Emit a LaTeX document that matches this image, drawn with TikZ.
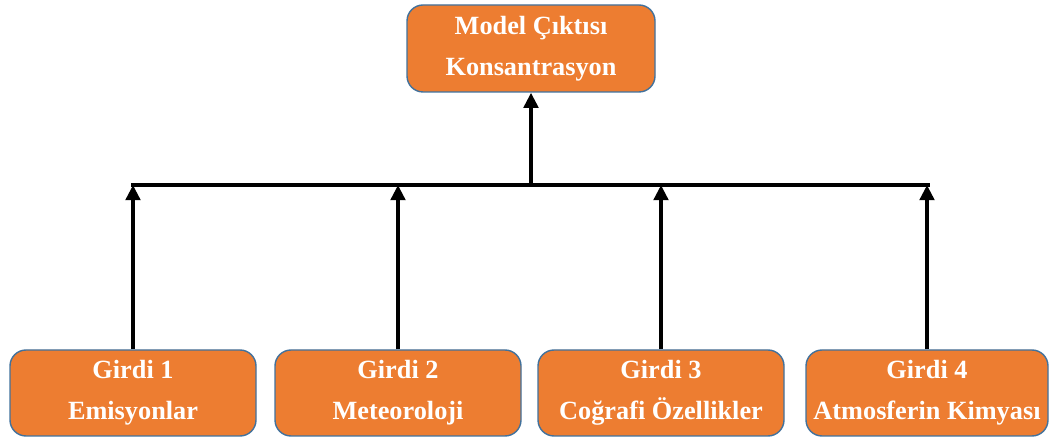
\documentclass[tikz,border=0pt]{standalone}
\usepackage{fontspec}
\setmainfont{Liberation Serif}
\usetikzlibrary{arrows.meta}
\definecolor{boxorange}{HTML}{ED7D31}
\definecolor{boxedge}{HTML}{41719C}
\tikzset{
  modelbox/.style={draw=boxedge, line width=1pt, fill=boxorange, rounded corners=0.4cm,
    text=white, font=\bfseries\fontsize{18.7}{29}\selectfont, align=center,
    minimum width=6.15cm, minimum height=2.15cm},
  feedline/.style={line width=2.7pt, -{Triangle[length=0.38cm,width=0.36cm]}},
}
\begin{document}
\begin{tikzpicture}
  \useasboundingbox (0,0) rectangle (26.25,10.975);

  % Model output
  \node[modelbox, minimum width=6.2cm, minimum height=2.175cm] (output) at (13.275,9.7625) {Model Çıktısı\\Konsantrasyon};

  % Inputs
  \node[modelbox] (girdi1) at (3.325,1.15) {Girdi 1\\Emisyonlar};
  \node[modelbox] (girdi2) at (9.95,1.15) {Girdi 2\\Meteoroloji};
  \node[modelbox] (girdi3) at (16.525,1.15) {Girdi 3\\Coğrafi Özellikler};
  \node[modelbox, minimum width=6.05cm] (girdi4) at (23.175,1.15) {Girdi 4\\Atmosferin Kimyası};

  % Collector bar
  \coordinate (barL) at (3.275,6.35);
  \coordinate (barR) at (23.25,6.35);
  \draw[line width=2.7pt] (barL) -- (barR);

  % Arrows
  \draw[feedline] (output.south |- barL) -- (output.south);
  \foreach \g in {girdi1,girdi2,girdi3,girdi4}
    \draw[feedline] (\g.north) -- (\g.north |- barL);
\end{tikzpicture}
\end{document}
